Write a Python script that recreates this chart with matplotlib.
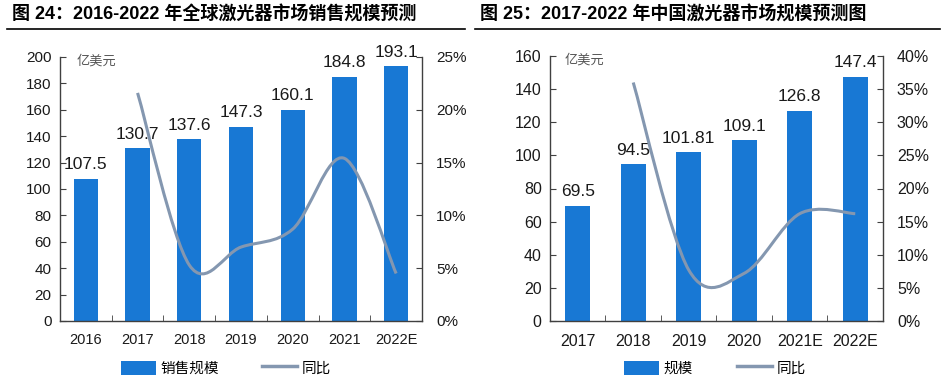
import matplotlib
matplotlib.use("Agg")
import matplotlib.pyplot as plt
from matplotlib.path import Path
from matplotlib.patches import PathPatch, Patch
from matplotlib.lines import Line2D
import numpy as np

plt.rcParams['font.family'] = ['Liberation Sans', 'Noto Sans CJK SC', 'DejaVu Sans']

# ---- data ----
title_left = "图 24：2016-2022 年全球激光器市场销售规模预测"
years_left = ["2016", "2017", "2018", "2019", "2020", "2021", "2022E"]
sales_left = [107.5, 130.7, 137.6, 147.3, 160.1, 184.8, 193.1]
yoy_left = [None, 0.216, 0.053, 0.070, 0.087, 0.154, 0.045]

title_right = "图 25：2017-2022 年中国激光器市场规模预测图"
years_right = ["2017", "2018", "2019", "2020", "2021E", "2022E"]
sales_right = [69.5, 94.5, 101.81, 109.1, 126.8, 147.4]
sales_right_labels = ["69.5", "94.5", "101.81", "109.1", "126.8", "147.4"]
yoy_right = [None, 0.360, 0.077, 0.072, 0.162, 0.162]

BAR = "#1878D4"
LINE = "#8497B0"
AX = "#404040"

fig = plt.figure(figsize=(9.45, 3.81), dpi=100)


def smooth_path(xs, ys):
    pts = np.column_stack([xs, ys])
    n = len(pts)
    verts = [pts[0]]
    codes = [Path.MOVETO]
    for i in range(n - 1):
        p0 = pts[i - 1] if i > 0 else pts[i]
        p1 = pts[i]
        p2 = pts[i + 1]
        p3 = pts[i + 2] if i + 2 < n else pts[i + 1]
        c1 = p1 + (p2 - p0) / 6.0
        c2 = p2 - (p3 - p1) / 6.0
        verts += [c1, c2, p2]
        codes += [Path.CURVE4] * 3
    return Path(verts, codes)


def draw(rect, title, title_x0, title_x1, cats, vals, labels, yoy, ymax, ystep,
         pmax, pstep, barname, tick_fs, xfs, lab_fs, bw, leg_anchor):
    ax = fig.add_axes(rect)
    x = np.arange(len(cats))
    ax.bar(x, vals, width=bw, color=BAR, zorder=2)
    for xi, v, lab in zip(x, vals, labels):
        ax.text(xi, v + ymax * 0.025, lab, ha='center', va='bottom',
                fontsize=lab_fs, color='#1a1a1a', zorder=5)
    ax.set_xlim(-0.5, len(cats) - 0.5)
    ax.set_ylim(0, ymax)
    ax.set_yticks(np.arange(0, ymax + 0.1, ystep))
    ax.set_xticks(x)
    ax.set_xticklabels(cats, fontsize=xfs, color='#1a1a1a')
    ax.set_xticks(np.arange(0.5, len(cats) - 0.5, 1), minor=True)
    ax.tick_params(axis='x', which='major', length=0, pad=9)
    ax.tick_params(axis='x', which='minor', direction='in', length=4, color=AX)
    ax.tick_params(axis='y', direction='in', length=4, color=AX,
                   labelsize=tick_fs, labelcolor='#1a1a1a', pad=6)
    for s in ['top', 'right']:
        ax.spines[s].set_visible(False)
    for s in ['left', 'bottom']:
        ax.spines[s].set_color(AX)
        ax.spines[s].set_linewidth(1.0)
    ax.text(0.045, 0.985, "亿美元", transform=ax.transAxes, ha='left', va='center',
            fontsize=9.5, color='#555555', family=['Noto Sans CJK SC'])

    ax2 = ax.twinx()
    ax2.set_ylim(0, pmax)
    ax2.set_yticks(np.arange(0, pmax + 1e-9, pstep))
    ax2.set_yticklabels([f"{int(round(t * 100))}%" for t in np.arange(0, pmax + 1e-9, pstep)])
    ax2.tick_params(axis='y', direction='in', length=4, color=AX,
                    labelsize=tick_fs, labelcolor='#1a1a1a', pad=10)
    for s in ['top', 'left', 'bottom']:
        ax2.spines[s].set_visible(False)
    ax2.spines['right'].set_color(AX)
    ax2.spines['right'].set_linewidth(1.0)
    xs = [xi for xi, v in zip(x, yoy) if v is not None]
    ys = [v for v in yoy if v is not None]
    path = smooth_path(xs, ys)
    ax2.add_patch(PathPatch(path, facecolor='none', edgecolor=LINE, lw=2.2,
                            zorder=3, capstyle='butt'))

    handles = [Patch(facecolor=BAR, edgecolor='none'),
               Line2D([0], [0], color=LINE, lw=2.5)]
    fig.legend(handles, [barname, "同比"], loc='center', bbox_to_anchor=leg_anchor,
               ncol=2, frameon=False, handlelength=2.4, handleheight=1.1,
               columnspacing=3.0, handletextpad=0.3,
               prop={'family': ['Noto Sans CJK SC'], 'size': 10.5})

    fig.text(title_x0 / 945, 1 - 15 / 381, title, ha='left', va='center',
             fontsize=13, fontweight='bold',
             family=['Liberation Sans', 'Noto Sans CJK SC'])
    fig.add_artist(Line2D([title_x0 / 945 - 0.005, title_x1 / 945],
                          [1 - 28.5 / 381, 1 - 28.5 / 381],
                          color='black', lw=1.2))
    return ax


draw([60 / 945, 1 - 321 / 381, (422 - 60) / 945, (321 - 57) / 381],
     title_left, 12, 465, years_left, sales_left,
     [f"{v:.1f}" for v in sales_left], yoy_left, 200, 20, 0.25, 0.05,
     "销售规模", 11, 10.5, 12.5, 0.47, (226 / 945, 1 - 368 / 381))

draw([550 / 945, 1 - 321 / 381, (883 - 550) / 945, (321 - 56) / 381],
     title_right, 480, 940, years_right, sales_right, sales_right_labels,
     yoy_right, 160, 20, 0.40, 0.05,
     "规模", 11.5, 11.5, 12.5, 0.45, (715 / 945, 1 - 368 / 381))

fig.savefig("out.png", dpi=100)
